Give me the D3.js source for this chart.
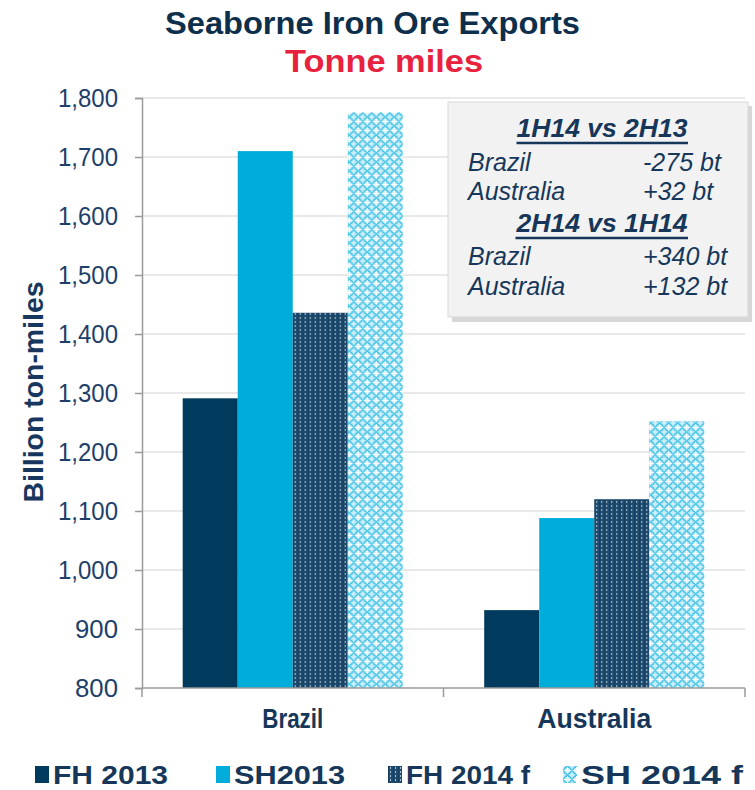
<!DOCTYPE html>
<html>
<head>
<meta charset="utf-8">
<script src="https://cdn.jsdelivr.net/npm/d3@7"></script>
<style>
  body { margin: 0; background: #fff; }
  svg { display: block; }
</style>
</head>
<body>
<svg id="chart"></svg>
<script>
// data
const categories = ['Brazil', 'Australia']
const seriesNames = ['FH 2013', 'SH2013', 'FH 2014 f', 'SH 2014 f']
const brazilValues = [1291, 1710, 1436, 1776]
const australiaValues = [932, 1088, 1120, 1252]
const yTickValues = [800, 900, 1000, 1100, 1200, 1300, 1400, 1500, 1600, 1700, 1800]
const boxLines = [
  { text: '1H14 vs 2H13', head: true },
  { text: 'Brazil', value: '-275 bt' },
  { text: 'Australia', value: '+32 bt' },
  { text: '2H14 vs 1H14', head: true },
  { text: 'Brazil', value: '+340 bt' },
  { text: 'Australia', value: '+132 bt' }
]

const valuesByCat = { Brazil: brazilValues, Australia: australiaValues }

const W = 755, H = 790
const navy = '#003a5c', cyan = '#00acd9', textDark = '#16375a', tickBlue = '#1e3f6a'
const sans = '"Liberation Sans", Arial, sans-serif'

const svg = d3.select('#chart').attr('width', W).attr('height', H)

// patterns for the forecast bars
const defs = svg.append('defs')
let p1 = defs.append('pattern').attr('id', 'dots')
  .attr('patternUnits', 'userSpaceOnUse').attr('width', 5).attr('height', 4)
p1.append('rect').attr('width', 5).attr('height', 4).attr('fill', '#1f4c6e')
p1.append('rect').attr('x', 2).attr('y', 1).attr('width', 1).attr('height', 2).attr('fill', '#a9bfcf')
p1.append('rect').attr('x', 0).attr('y', 0).attr('width', 1).attr('height', 4).attr('fill', '#123d5e')

let p2 = defs.append('pattern').attr('id', 'lattice')
  .attr('patternUnits', 'userSpaceOnUse').attr('width', 9).attr('height', 9)
p2.append('rect').attr('width', 9).attr('height', 9).attr('fill', '#c9eef9')
p2.append('circle').attr('cx', 4.5).attr('cy', 4.5).attr('r', 3.6)
  .attr('fill', 'none').attr('stroke', '#45c3e6').attr('stroke-width', 1.6)
p2.append('rect').attr('x', 4).attr('y', 1).attr('width', 1).attr('height', 7).attr('fill', '#ffffff')
p2.append('rect').attr('x', 1).attr('y', 4).attr('width', 7).attr('height', 1).attr('fill', '#ffffff')

const fills = [navy, cyan, 'url(#dots)', 'url(#lattice)']

// scales
let x = d3.scaleBand().domain(categories).range([142, 745])
  .paddingInner(0.27).paddingOuter(0.135)
let xs = d3.scaleBand().domain(seriesNames).range([0, x.bandwidth()])
let y = d3.scaleLinear().domain([800, 1800]).range([688, 98])

// gridlines
svg.append('g').selectAll('line')
  .data(yTickValues.slice(1)).enter().append('line')
  .attr('x1', 142).attr('x2', 745)
  .attr('y1', d => y(d)).attr('y2', d => y(d))
  .attr('stroke', '#e2e2e2').attr('stroke-width', 1.5)

// bars
let groups = svg.append('g').selectAll('g')
  .data(categories).enter().append('g')
  .attr('transform', d => `translate(${x(d)},0)`)

groups.selectAll('rect')
  .data(c => valuesByCat[c].map((v, i) => ({ name: seriesNames[i], value: v, i: i })))
  .enter().append('rect')
  .attr('x', d => xs(d.name))
  .attr('y', d => y(d.value))
  .attr('width', xs.bandwidth())
  .attr('height', d => y(800) - y(d.value))
  .attr('fill', d => fills[d.i])

// y axis
let yAxis = svg.append('g').attr('transform', 'translate(142,0)')
  .call(d3.axisLeft(y).tickValues(yTickValues).tickSize(7).tickPadding(17).tickFormat(d3.format(',')))
yAxis.select('.domain').attr('stroke', '#9a9a9a').attr('stroke-width', 1.5)
yAxis.selectAll('.tick line').attr('stroke', '#9a9a9a').attr('stroke-width', 1.5)
yAxis.selectAll('.tick text')
  .attr('font-family', sans).attr('font-size', 25).attr('fill', tickBlue)
  .attr('textLength', 60).attr('lengthAdjust', 'spacingAndGlyphs')
yAxis.selectAll('.tick').filter(d => d < 1000).select('text').attr('textLength', 43)

// x axis with ticks on the category boundaries
let gap = (x.step() - x.bandwidth()) / 2
let bounds = categories.map(c => x(c) - gap).concat([x(categories[categories.length - 1]) + x.bandwidth() + gap])
let xAxis = svg.append('g')
xAxis.append('line').attr('x1', 142).attr('x2', 745).attr('y1', 688).attr('y2', 688)
  .attr('stroke', '#9a9a9a').attr('stroke-width', 1.5)
xAxis.selectAll('.btick').data(bounds).enter().append('line')
  .attr('x1', d => d).attr('x2', d => d).attr('y1', 688).attr('y2', 697)
  .attr('stroke', '#9a9a9a').attr('stroke-width', 1.5)
const catWidths = [61, 114]
xAxis.selectAll('text').data(categories).enter().append('text')
  .attr('x', d => x(d) + x.bandwidth() / 2).attr('y', 728)
  .attr('text-anchor', 'middle')
  .attr('font-family', sans).attr('font-weight', 'bold').attr('font-size', 28)
  .attr('textLength', (d, i) => catWidths[i]).attr('lengthAdjust', 'spacingAndGlyphs')
  .attr('fill', textDark)
  .text(d => d)

// y title
svg.append('text')
  .attr('transform', 'translate(43,392) rotate(-90)')
  .attr('text-anchor', 'middle')
  .attr('font-family', sans).attr('font-weight', 'bold').attr('font-size', 27)
  .attr('textLength', 221).attr('lengthAdjust', 'spacingAndGlyphs')
  .attr('fill', '#17375e')
  .text('Billion ton-miles')

// titles
svg.append('text').attr('x', 165).attr('y', 34)
  .attr('font-family', sans).attr('font-weight', 'bold').attr('font-size', 32)
  .attr('textLength', 415).attr('lengthAdjust', 'spacingAndGlyphs')
  .attr('fill', '#0d2f4b')
  .text('Seaborne Iron Ore Exports')
svg.append('text').attr('x', 285).attr('y', 72)
  .attr('font-family', sans).attr('font-weight', 'bold').attr('font-size', 32)
  .attr('textLength', 198).attr('lengthAdjust', 'spacingAndGlyphs')
  .attr('fill', '#e8213f')
  .text('Tonne miles')

// comparison box
let box = svg.append('g')
box.append('rect').attr('x', 452).attr('y', 106).attr('width', 300).attr('height', 216)
  .attr('fill', '#bdbdbd').attr('opacity', 0.6)
box.append('rect').attr('x', 448).attr('y', 102).attr('width', 300).attr('height', 215)
  .attr('fill', '#f2f2f2').attr('stroke', '#d9d9d9')
let lineY = [137, 171, 200, 232, 265, 295]
boxLines.forEach((d, i) => {
  if (d.head) {
    let t = box.append('text').attr('x', 602).attr('y', lineY[i]).attr('text-anchor', 'middle')
      .attr('font-family', sans).attr('font-weight', 'bold').attr('font-style', 'italic')
      .attr('font-size', 26).attr('textLength', 171).attr('lengthAdjust', 'spacingAndGlyphs')
      .attr('fill', textDark).text(d.text)
    let bb = t.node().getBBox()
    box.append('line').attr('x1', bb.x).attr('x2', bb.x + bb.width)
      .attr('y1', lineY[i] + 6).attr('y2', lineY[i] + 6)
      .attr('stroke', textDark).attr('stroke-width', 2.5)
  } else {
    box.append('text').attr('x', 468).attr('y', lineY[i])
      .attr('font-family', sans).attr('font-style', 'italic')
      .attr('font-size', 25).attr('fill', textDark).text(d.text)
    box.append('text').attr('x', 643).attr('y', lineY[i])
      .attr('font-family', sans).attr('font-style', 'italic')
      .attr('font-size', 25).attr('fill', textDark).text(d.value)
  }
})

// legend
const legendX = [35, 216, 388, 563]
const legendWidths = [115, 111, 124, 162]
let legend = svg.append('g').selectAll('g')
  .data(seriesNames).enter().append('g')
  .attr('transform', (d, i) => `translate(${legendX[i]},766)`)
legend.append('rect').attr('width', 14).attr('height', 17)
  .attr('fill', (d, i) => fills[i])
legend.append('text').attr('x', 18).attr('y', 18)
  .attr('font-family', sans).attr('font-weight', 'bold').attr('font-size', 26)
  .attr('textLength', (d, i) => legendWidths[i]).attr('lengthAdjust', 'spacingAndGlyphs')
  .attr('fill', textDark)
  .text(d => d)
</script>
</body>
</html>
